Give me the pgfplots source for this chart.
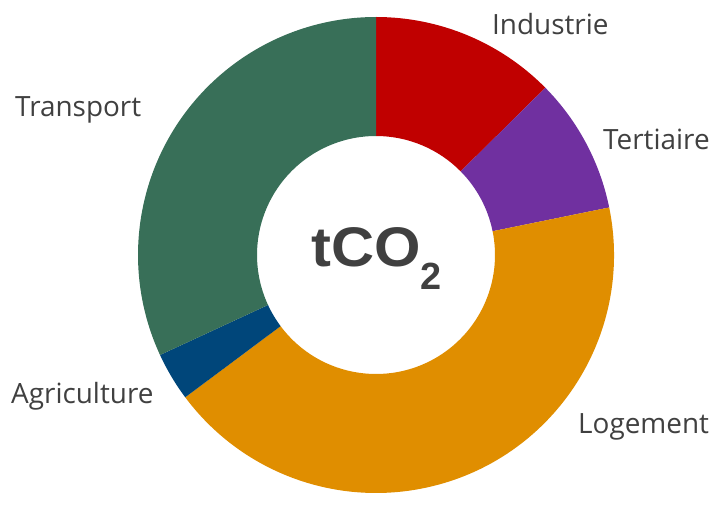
\documentclass[border=0pt]{standalone}
\usepackage{pgfplots}
\pgfplotsset{compat=1.18}
\usepackage{fontspec}
\setmainfont{Open Sans}
\newfontfamily\cfont{Liberation Sans}
\usetikzlibrary{calc}
\definecolor{cInd}{HTML}{C00000}
\definecolor{cTer}{HTML}{7030A0}
\definecolor{cLog}{HTML}{E08E00}
\definecolor{cAgr}{HTML}{00467A}
\definecolor{cTra}{HTML}{386F58}
\definecolor{txt}{HTML}{404040}
\begin{document}
\begin{tikzpicture}
\begin{axis}[
  width=717bp, height=492bp, scale only axis,
  xmin=0, xmax=717, ymin=0, ymax=492,
  hide axis, clip=false,
]
\path (axis cs:0,0) rectangle (axis cs:717,492);
\def\cx{376}\def\cy{237}
\def\Ro{238}\def\Ri{119}
\xdef\a{90}
% shares in percent, clockwise from the top
\foreach \v/\c in {12.6/cInd,9.2/cTer,43.0/cLog,3.3/cAgr,31.9/cTra}{
  \pgfmathsetmacro\b{\a-3.6*\v}
  \edef\tmp{\noexpand\fill[\c] ($(axis cs:\cx,\cy)+(\a:\Ro bp)$) arc[start angle=\a,end angle=\b,radius=\Ro bp] -- ($(axis cs:\cx,\cy)+(\b:\Ri bp)$) arc[start angle=\b,end angle=\a,radius=\Ri bp] -- cycle;}
  \tmp
  \xdef\a{\b}
}
\tikzset{lab/.style={anchor=base west, text=txt, font=\fontsize{28}{32}\selectfont, inner sep=0pt}}
\node[lab] at (axis cs:492,457) {Industrie};
\node[lab] at (axis cs:603,342) {Tertiaire};
\node[lab] at (axis cs:15,375) {Transport};
\node[lab] at (axis cs:11,89) {Agriculture};
\node[lab] at (axis cs:578,59) {Logement};
\node[anchor=base west, text=txt, inner sep=0pt] at (axis cs:311,225) {\scalebox{1.07}[1]{\cfont\bfseries\fontsize{56}{60}\selectfont tCO}\raisebox{-23bp}{\cfont\bfseries\fontsize{38}{40}\selectfont 2}};
\end{axis}
\end{tikzpicture}
\end{document}
